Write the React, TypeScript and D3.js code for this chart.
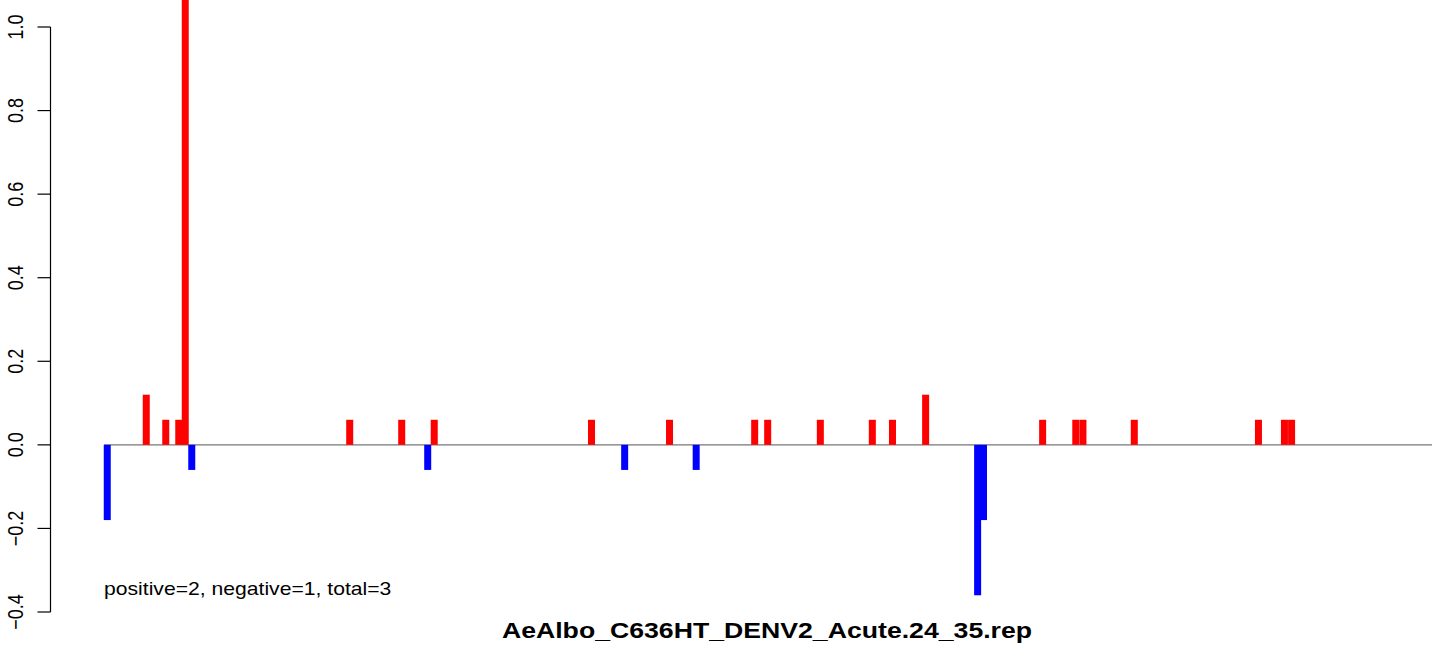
import * as React from 'react';
import * as d3 from 'd3';

// bar positions (index along the sequence) and their values
const positions = [
  1, 7, 10, 12, 13, 14, 38.3, 46.3, 50.3, 51.3, 75.5, 80.6, 87.5, 91.6, 100.6, 102.6,
  110.7, 118.7, 121.8, 126.9, 134.9, 135.8, 144.9, 150, 151.1, 159, 178.1, 182.1, 183.2,
];
const values = [
  -0.18, 0.12, 0.06, 0.06, 1.15, -0.06, 0.06, 0.06, -0.06, 0.06, 0.06, -0.06, 0.06, -0.06, 0.06, 0.06,
  0.06, 0.06, 0.06, 0.12, -0.36, -0.18, 0.06, 0.06, 0.06, 0.06, 0.06, 0.06, 0.06,
];
const yTicks = [-0.4, -0.2, 0.0, 0.2, 0.4, 0.6, 0.8, 1.0];
const title = 'AeAlbo_C636HT_DENV2_Acute.24_35.rep';
const note = 'positive=2, negative=1, total=3';

const W = 1444;
const H = 648;
const FONT = '"Liberation Sans", Arial, Helvetica, sans-serif';

export default function App() {
  const x = d3.scaleLinear().domain([0.5, 204.8]).range([104, 1432]);
  const y = d3.scaleLinear().domain([-0.4, 1.0]).range([612, 27]);
  const axisX = 50.5;
  const barW = 7;

  const bars = positions.map((p, i) => ({ p, v: values[i] }));

  return (
    <svg
      width={W}
      height={H}
      style={{ position: 'absolute', left: 0, top: 0, background: '#fff' }}
      fontFamily={FONT}
    >
      {/* zero line */}
      <line x1={x(0.5)} x2={x(204.8)} y1={y(0)} y2={y(0)} stroke="#777" strokeWidth={1.3} />

      {/* bars */}
      {bars.map((b, i) => {
        const y0 = y(0);
        const y1 = y(b.v);
        return (
          <rect
            key={i}
            x={x(b.p) - barW / 2}
            width={barW}
            y={Math.min(y0, y1)}
            height={Math.abs(y1 - y0)}
            fill={b.v >= 0 ? '#ff0000' : '#0000ff'}
          />
        );
      })}

      {/* y axis */}
      <g>
        <line x1={axisX} x2={axisX} y1={y(-0.4)} y2={y(1.0)} stroke="#000" strokeWidth={1.2} />
        {yTicks.map((t) => (
          <g key={t}>
            <line x1={axisX - 13} x2={axisX} y1={y(t)} y2={y(t)} stroke="#000" strokeWidth={1.2} />
            <text
              transform={`translate(23,${y(t)}) rotate(-90) scale(1,1.2)`}
              textAnchor="middle"
              fontSize={18}
              fill="#000"
            >
              {d3.format('.1f')(t).replace('-', '\u2212')}
            </text>
          </g>
        ))}
      </g>

      {/* annotation (source image is stretched horizontally) */}
      <text transform="translate(104,595) scale(1.113,1)" fontSize={19} fill="#000">
        {note}
      </text>

      {/* title */}
      <text
        transform="translate(767,638) scale(1.24,1)"
        textAnchor="middle"
        fontSize={21.5}
        fontWeight="bold"
        fill="#000"
      >
        {title}
      </text>
    </svg>
  );
}
